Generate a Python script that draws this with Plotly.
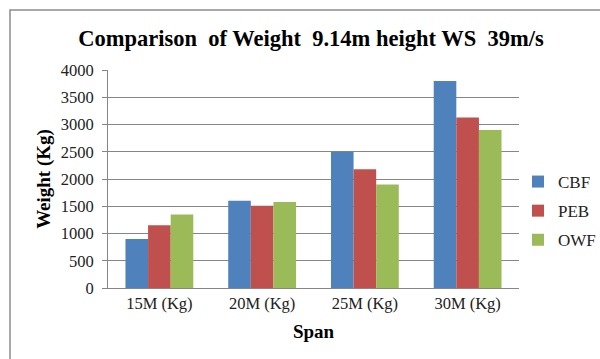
import plotly.graph_objects as go

# Span categories and structure weights (kg)
spans = ["15M (Kg)", "20M (Kg)", "25M (Kg)", "30M (Kg)"]
cbf = [900, 1600, 2500, 3800]
peb = [1150, 1510, 2180, 3130]
owf = [1350, 1580, 1900, 2900]

series = [("CBF", cbf, "#4F81BD"), ("PEB", peb, "#C0504D"), ("OWF", owf, "#9BBB59")]

SERIF = "Liberation Serif"
GRID = "#868686"

fig = go.Figure()
for i, (name, vals, color) in enumerate(series):
    fig.add_trace(go.Bar(
        x=spans, y=vals, name=name, legendgroup=name,
        marker=dict(color=color, line=dict(width=0)),
    ))

W, H = 600, 359
ml, mr, mt, mb = 108, 81, 70, 71
pw, ph = W - ml - mr, H - mt - mb

def px_x(x):
    return (x - ml) / pw

def px_y(y):
    return (H - mb - y) / ph

fig.update_layout(
    width=W, height=H,
    margin=dict(l=ml, r=mr, t=mt, b=mb, pad=0, autoexpand=False),
    paper_bgcolor="white", plot_bgcolor="white",
    barmode="group", bargap=0.34, bargroupgap=0,
    font=dict(family=SERIF, color="#222222"),
    title=dict(
        text="<b>Comparison  of Weight  9.14m height WS  39m/s</b>",
        xref="container", x=311 / W, xanchor="center",
        yref="container", y=1 - 38 / H, yanchor="middle",
        font=dict(family=SERIF, size=22.5, color="#000000"),
    ),
    xaxis=dict(
        title=dict(text="<b>Span</b>", font=dict(family=SERIF, size=19, color="#000000"), standoff=12),
        tickfont=dict(family=SERIF, size=16.5, color="#222222"),
        showline=True, linecolor=GRID, linewidth=1,
        showgrid=False, ticks="", fixedrange=True,
    ),
    yaxis=dict(
        title=dict(text="<b>Weight (Kg)</b>", font=dict(family=SERIF, size=19, color="#000000"), standoff=5),
        tickfont=dict(family=SERIF, size=16.5, color="#222222"),
        range=[0, 4000], dtick=500, tick0=0,
        showline=True, linecolor=GRID, linewidth=1,
        showgrid=True, gridcolor=GRID, gridwidth=1,
        ticks="outside", ticklen=5, tickcolor=GRID, ticklabelstandoff=5,
        zeroline=False, fixedrange=True,
    ),
    legend=dict(
        xref="container", yref="container",
        x=518 / W, xanchor="left", y=1 - 164 / H, yanchor="top",
        font=dict(family=SERIF, size=17, color="#222222"),
        tracegroupgap=4, traceorder="grouped", itemwidth=30,
        bgcolor="rgba(0,0,0,0)",
    ),
    shapes=[dict(
        type="rect", xref="paper", yref="paper",
        x0=px_x(10), x1=px_x(640), y0=px_y(400), y1=px_y(10),
        line=dict(color="#8C8C8C", width=1.5), fillcolor="rgba(0,0,0,0)", layer="below",
    )],
)

fig.write_html("out.html")
